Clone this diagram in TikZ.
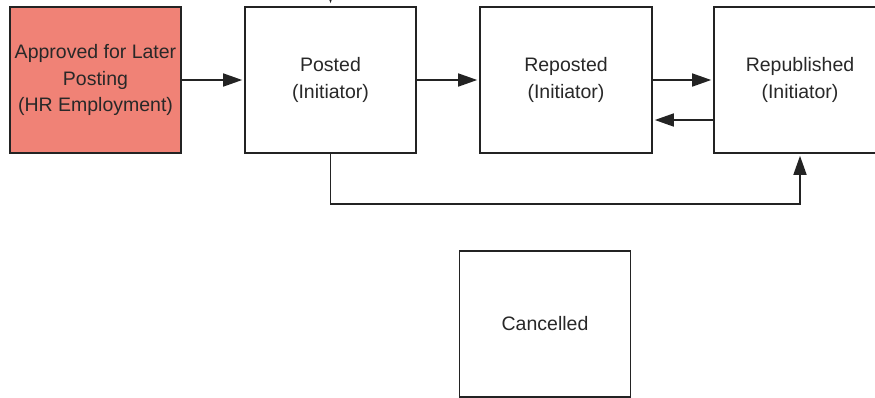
\documentclass[tikz,border=0pt]{standalone}
\usepackage{fontspec}
\setmainfont{Liberation Sans}
\usetikzlibrary{arrows.meta}
\definecolor{salmon}{RGB}{240,130,118}
\definecolor{ink}{RGB}{35,35,35}
\definecolor{txt}{RGB}{40,40,40}
\tikzset{
  state/.style={draw=ink, line width=1.6pt, fill=white, minimum width=171pt,
    minimum height=146pt, inner sep=0pt, align=center, text=txt,
    font=\fontsize{19.5}{26.5}\selectfont},
  flow/.style={draw=ink, line width=1.6pt, -{Triangle[length=19pt,width=13pt]},
    shorten >=2pt}
}
\begin{document}
\begin{tikzpicture}[x=1pt,y=-1pt]
  \useasboundingbox (0,0) rectangle (875,397);
  \clip (0,0) rectangle (875,397);

  \node[state, fill=salmon] (approved) at (95.5,80) {Approved for Later\\Posting\\(HR Employment)};
  \node[state] (posted) at (330.5,80) {Posted\\(Initiator)};
  \node[state, minimum width=172pt] (reposted) at (566,80) {Reposted\\(Initiator)};
  \node[state, minimum width=172pt] (republished) at (800,80) {Republished\\(Initiator)};
  \node[state] (cancelled) at (545,324) {Cancelled};

  % incoming connector from above the visible area
  \coordinate (above) at (330.5,-40);
  \draw[flow, shorten >=3pt] (above) -- (posted.north);

  \draw[flow] (approved.east) -- (posted.west);
  \draw[flow] (posted.east) -- (reposted.west);
  \draw[flow] (reposted.east) -- (republished.west);
  \draw[flow] ([yshift=-40pt]republished.west) -- ([yshift=-40pt]reposted.east);
  \draw[flow] (posted.south) -- ++(0,50) -| (republished.south);
\end{tikzpicture}
\end{document}
